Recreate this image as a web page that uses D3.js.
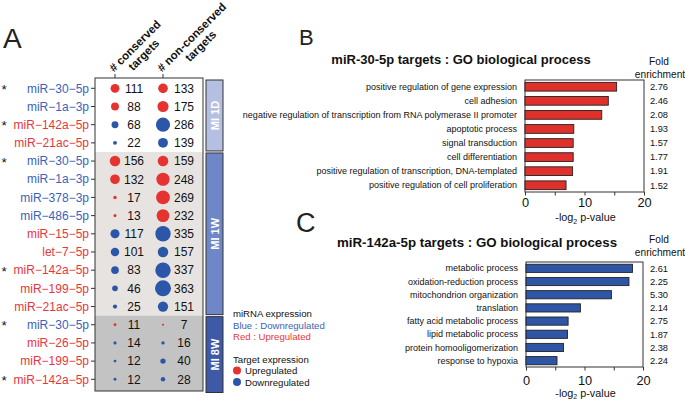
<!DOCTYPE html>
<html><head><meta charset="utf-8">
<script src="https://cdn.jsdelivr.net/npm/d3@7"></script>
<style>
html,body{margin:0;padding:0;background:#fff;}
svg{display:block;font-family:"Liberation Sans",Arial,Helvetica,sans-serif;}
</style></head>
<body>
<svg id="chart" width="685" height="401"></svg>
<script>
// ---------- Panel A data ----------
const mirnas = ["miR−30−5p","miR−1a−3p","miR−142a−5p","miR−21ac−5p",
  "miR−30−5p","miR−1a−3p","miR−378−3p","miR−486−5p","miR−15−5p","let−7−5p","miR−142a−5p","miR−199−5p","miR−21ac−5p",
  "miR−30−5p","miR−26−5p","miR−199−5p","miR−142a−5p"];
const mirnaExpr = ["down","down","up","up","down","down","down","down","up","up","up","up","up","down","up","up","up"];
const starred = [1,0,1,0,1,0,0,0,0,0,1,0,0,1,0,0,1];
const conserved = [111,88,68,22,156,132,17,13,117,101,83,46,25,11,14,12,12];
const nonConserved = [133,175,286,139,159,248,269,232,335,157,337,363,151,7,16,40,28];
const timepoints = ["MI 1D","MI 1W","MI 8W"];
const timepointOfRow = ["MI 1D","MI 1D","MI 1D","MI 1D","MI 1W","MI 1W","MI 1W","MI 1W","MI 1W","MI 1W","MI 1W","MI 1W","MI 1W","MI 8W","MI 8W","MI 8W","MI 8W"];
const columnHeaders = [["# conserved","targets"],["# non-conserved","targets"]];

// ---------- Panel B data ----------
const termsB = ["positive regulation of gene expression","cell adhesion","negative regulation of transcription from RNA polymerase II promoter","apoptotic process","signal transduction","cell differentiation","positive regulation of transcription, DNA-templated","positive regulation of cell proliferation"];
const pvalB = [15.4,14.0,12.9,8.2,8.1,8.1,8.0,6.9];
const foldB = ["2.76","2.46","2.08","1.93","1.57","1.77","1.91","1.52"];

// ---------- Panel C data ----------
const termsC = ["metabolic process","oxidation-reduction process","mitochondrion organization","translation","fatty acid metabolic process","lipid metabolic process","protein homooligomerization","response to hypoxia"];
const pvalC = [18.2,17.6,14.6,9.3,7.2,7.1,6.4,5.3];
const foldC = ["2.61","2.25","5.30","2.14","2.75","1.87","2.38","2.24"];
const xTicks = [0,5,10,15,20];
const xTickLabels = [0,10,20];

// ---------- colours ----------
const RED = "#e5332f", BLUE = "#2c57a8";
const LRED = "#e8363c", LBLUE = "#3b63b6";
const bandFill = {"MI 1D":"#ffffff","MI 1W":"#e7e3e1","MI 8W":"#c3c3c3"};
const stripFill = {"MI 1D":"#b5bfe2","MI 1W":"#6f87c6","MI 8W":"#3e5aa7"};

const svg = d3.select("#chart");

// ================= PANEL A =================
const idx = d3.range(mirnas.length);
const y = d3.scalePoint().domain(idx).range([88.3, 379.3]);
const boxX0 = 95, boxX1 = 203;
const boxY0 = y(0) - 10.3, boxY1 = y(16) + 11.7;
const xCol = d3.scalePoint().domain([0,1]).range([115, 163]);
const r = d3.scaleSqrt().domain([0, 363]).range([0, 8]);

svg.append("text").attr("x",3).attr("y",48).attr("font-size",28).attr("fill","#222").text("A");

// band backgrounds + strips
timepoints.forEach(tp => {
  const rows = idx.filter(i => timepointOfRow[i] === tp);
  const a = d3.min(rows), b = d3.max(rows);
  const top = a === 0 ? boxY0 : (y(a) + y(a-1)) / 2;
  const bot = b === 16 ? boxY1 : (y(b) + y(b+1)) / 2;
  svg.append("rect").attr("x",boxX0).attr("y",top).attr("width",boxX1-boxX0).attr("height",bot-top)
    .attr("fill",bandFill[tp]);
  const sTop = a === 0 ? boxY0 + 2 : top + 1;
  const sBot = b === 16 ? boxY1 + 1.5 : bot - 1;
  svg.append("rect").attr("x",206).attr("y",sTop).attr("width",17).attr("height",sBot-sTop)
    .attr("fill",stripFill[tp]).attr("stroke","#333").attr("stroke-width",1);
  svg.append("text").attr("transform",`translate(${218.5},${(sTop+sBot)/2}) rotate(-90)`)
    .attr("text-anchor","middle").attr("font-size",11).attr("font-weight","bold").attr("fill","#fff").text(tp);
});
svg.append("rect").attr("x",boxX0).attr("y",boxY0).attr("width",boxX1-boxX0).attr("height",boxY1-boxY0)
  .attr("fill","none").attr("stroke","#333").attr("stroke-width",1);

// left ticks + labels
const gA = svg.append("g");
idx.forEach(i => {
  gA.append("line").attr("x1",91).attr("x2",95).attr("y1",y(i)).attr("y2",y(i)).attr("stroke","#333");
  gA.append("text").attr("x",89).attr("y",y(i)).attr("dy","0.35em").attr("text-anchor","end")
    .attr("font-size",12).attr("fill", mirnaExpr[i]==="down" ? LBLUE : LRED).text(mirnas[i]);
  if (starred[i]) gA.append("text").attr("x",1.5).attr("y",y(i)+5.5).attr("font-size",13.5).attr("fill","#111").text("*");
});
// top ticks and rotated column headers
[0,1].forEach(c => {
  gA.append("line").attr("x1",xCol(c)).attr("x2",xCol(c)).attr("y1",boxY0-4).attr("y2",boxY0).attr("stroke","#333");
  const g = gA.append("g").attr("transform",`translate(${xCol(c)-1},72.5) rotate(-45)`);
  const t1 = g.append("text").attr("x",0).attr("y",0).attr("font-size",11.5).attr("font-weight","bold").attr("fill","#111")
    .text(columnHeaders[c][0]);
  const L = t1.node().getComputedTextLength();
  t1.attr("x", L/2).attr("text-anchor","middle");
  g.append("text").attr("x",L/2).attr("y",12.5).attr("text-anchor","middle").attr("font-size",11.5)
    .attr("font-weight","bold").attr("fill","#111").text(columnHeaders[c][1]);
});

// circles and numbers
const vals = [conserved, nonConserved];
const numX = [134, 184];
[0,1].forEach(c => {
  idx.forEach(i => {
    const col = mirnaExpr[i]==="down" ? RED : BLUE;
    gA.append("circle").attr("cx",xCol(c)).attr("cy",y(i)).attr("r",r(vals[c][i])).attr("fill",col);
    gA.append("text").attr("x",numX[c]).attr("y",y(i)).attr("dy","0.36em").attr("text-anchor","middle")
      .attr("font-size",12).attr("fill","#111").text(vals[c][i]);
  });
});

// legend
const lg = svg.append("g").attr("font-size",9.6);
lg.append("text").attr("x",233).attr("y",317).attr("fill","#111").text("miRNA expression");
lg.append("text").attr("x",233).attr("y",328.5).attr("fill",LBLUE).text("Blue : Downregulated");
lg.append("text").attr("x",233).attr("y",340).attr("fill",LRED).text("Red : Upregulated");
lg.append("text").attr("x",233).attr("y",363).attr("fill","#111").text("Target expression");
lg.append("circle").attr("cx",237).attr("cy",370.5).attr("r",4).attr("fill",RED);
lg.append("text").attr("x",245).attr("y",374).attr("fill","#111").text("Upregulated");
lg.append("circle").attr("cx",237).attr("cy",382).attr("r",4).attr("fill",BLUE);
lg.append("text").attr("x",245).attr("y",385.5).attr("fill","#111").text("Downregulated");

// ================= PANELS B & C =================
function barPanel(opts) {
  const {letter, letterX, letterY, letterSize, title, titleX, titleY, titleSize, foldY, x0, x1, y0, y1, terms, pvals, folds, color, tickY, axisTitleY} = opts;
  svg.append("text").attr("x",letterX).attr("y",letterY).attr("font-size",letterSize).attr("fill","#222").text(letter);
  svg.append("text").attr("x",titleX).attr("y",titleY).attr("text-anchor","middle").attr("font-size",titleSize)
    .attr("font-weight","bold").attr("fill","#111").text(title);
  svg.append("text").attr("x",659).attr("y",foldY).attr("text-anchor","middle").attr("font-size",10.2).attr("fill","#111").text("Fold");
  svg.append("text").attr("x",660).attr("y",foldY+12.5).attr("text-anchor","middle").attr("font-size",10.2).attr("fill","#111").text("enrichment");

  const x = d3.scaleLinear().domain([0,20]).range([x0,x1]);
  const yb = d3.scaleBand().domain(terms).range([y0,y1]).paddingInner(0.38).paddingOuter(0.17);
  const g = svg.append("g");
  g.append("rect").attr("x",x0).attr("y",y0).attr("width",x1-x0).attr("height",y1-y0)
    .attr("fill","none").attr("stroke","#333").attr("stroke-width",1);
  g.selectAll("rect.bar").data(terms).join("rect").attr("class","bar")
    .attr("x",x(0)).attr("y",d=>yb(d)).attr("width",(d,i)=>x(pvals[i])-x(0)).attr("height",yb.bandwidth())
    .attr("fill",color).attr("stroke","#222").attr("stroke-width",0.9);
  g.selectAll("text.term").data(terms).join("text").attr("class","term")
    .attr("x",x0-8).attr("y",d=>yb(d)+yb.bandwidth()/2).attr("dy","0.35em").attr("text-anchor","end")
    .attr("font-size",9).attr("fill","#111").text(d=>d);
  g.selectAll("text.fold").data(terms).join("text").attr("class","fold")
    .attr("x",659).attr("y",d=>yb(d)+yb.bandwidth()/2).attr("dy","0.35em").attr("text-anchor","middle")
    .attr("font-size",9.3).attr("fill","#111").text((d,i)=>folds[i]);
  const ax = d3.axisBottom(x).tickValues(xTicks).tickSize(3.5).tickFormat(d => xTickLabels.includes(d) ? d : "");
  const axg = g.append("g").attr("transform",`translate(0,${y1})`).call(ax);
  axg.select(".domain").remove();
  axg.selectAll("line").attr("stroke","#333");
  axg.selectAll("text").attr("font-size",12.8).attr("fill","#111").attr("font-family",null).attr("dy",null)
    .attr("y", tickY - y1);
  const at = g.append("text").attr("x",(x0+x1)/2 + 1).attr("y",axisTitleY).attr("text-anchor","middle")
    .attr("font-size",10.8).attr("fill","#111");
  at.append("tspan").text("-log");
  at.append("tspan").attr("font-size",7).attr("dy",2.5).text("2");
  at.append("tspan").attr("dy",-2.5).text(" p-value");
}

barPanel({letter:"B", letterX:299, letterY:45, letterSize:22,
  title:"miR-30-5p targets : GO biological process", titleX:461, titleY:64, titleSize:13, foldY:65,
  x0:525, x1:644, y0:80, y1:192, terms:termsB, pvals:pvalB, folds:foldB, color:"#e0302b",
  tickY:206.5, axisTitleY:221});
barPanel({letter:"C", letterX:296, letterY:232, letterSize:27,
  title:"miR-142a-5p targets : GO biological process", titleX:477, titleY:247, titleSize:13.3, foldY:243,
  x0:526, x1:643, y0:262, y1:367, terms:termsC, pvals:pvalC, folds:foldC, color:"#2f56a6",
  tickY:385, axisTitleY:396.8});
</script>
</body></html>
